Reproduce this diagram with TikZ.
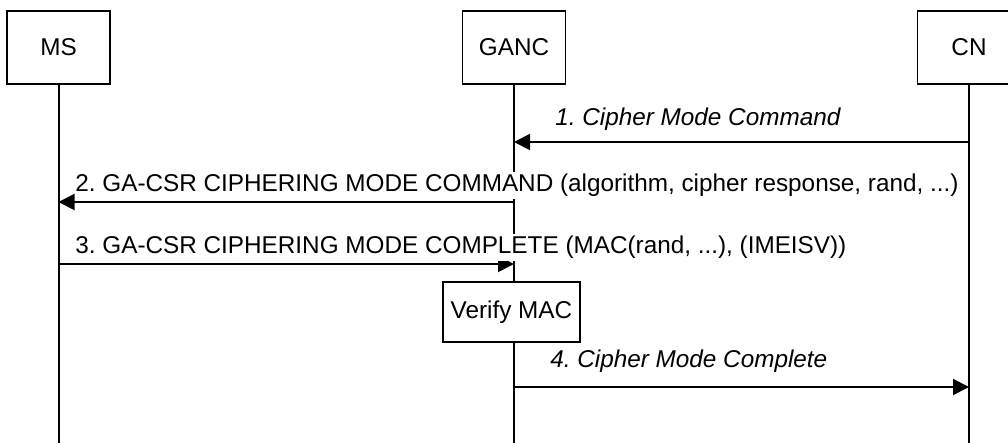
\documentclass[tikz,border=0pt]{standalone}
\usepackage{fontspec}
\setmainfont{Liberation Sans}
\usetikzlibrary{arrows.meta}
\frenchspacing
\tikzset{
  entity/.style={draw, line width=0.9pt, fill=white, minimum width=51.5pt, minimum height=36.5pt, inner sep=0pt},
  procbox/.style={draw, line width=0.9pt, fill=white, minimum width=68.5pt, minimum height=30pt, inner sep=0pt},
  life/.style={line width=1pt},
  msg/.style={line width=1pt, -{Triangle[length=8pt,width=8pt]}},
  lbl/.style={anchor=base west, inner xsep=0pt, inner ysep=1pt, fill=white},
}
\begin{document}
\begin{tikzpicture}[x=0.5pt,y=-0.5pt,font=\fontsize{12.15pt}{14pt}\selectfont]
\clip (0,0) rectangle (1008,443);
\useasboundingbox (0,0) rectangle (1008,443);
% entities
\node[entity] (ms) at (58.5,47.5) {MS};
\node[entity] (ganc) at (514,47.5) {GANC};
\node[entity] (cn) at (969,47.5) {CN};
% lifeline ends
\coordinate (msend) at (58.5,450);
\coordinate (gancend) at (514,450);
\coordinate (cnend) at (969,450);
\draw[life] (ms.south) -- (msend);
\draw[life] (ganc.south) -- (gancend);
\draw[life] (cn.south) -- (cnend);
% message points
\coordinate (cn1) at (969,142);
\coordinate (ganc1) at (514,142);
\coordinate (ganc2) at (514,202);
\coordinate (ms2) at (58.5,202);
\coordinate (ms3) at (58.5,264);
\coordinate (ganc3) at (514,264);
\coordinate (ganc4) at (514,387);
\coordinate (cn4) at (969,387);
% messages
\draw[msg] (cn1) -- (ganc1);
\node[lbl] (l1) at (555,126) {\itshape 1. Cipher Mode Command};
\draw[msg] (ganc2) -- (ms2);
\node[lbl] (l2) at (75,192) {2. GA-CSR CIPHERING MODE COMMAND (algorithm, cipher response, rand, ...)};
\draw[msg] (ms3) -- (ganc3);
\node[lbl] (l3) at (75,254) {3. GA-CSR CIPHERING MODE COMPLETE (MAC(rand, ...), (IMEISV))};
\node[procbox] (verify) at (511.5,312) {Verify MAC};
\draw[msg] (ganc4) -- (cn4);
\node[lbl] (l4) at (550,368) {\itshape 4. Cipher Mode Complete};
\end{tikzpicture}
\end{document}
